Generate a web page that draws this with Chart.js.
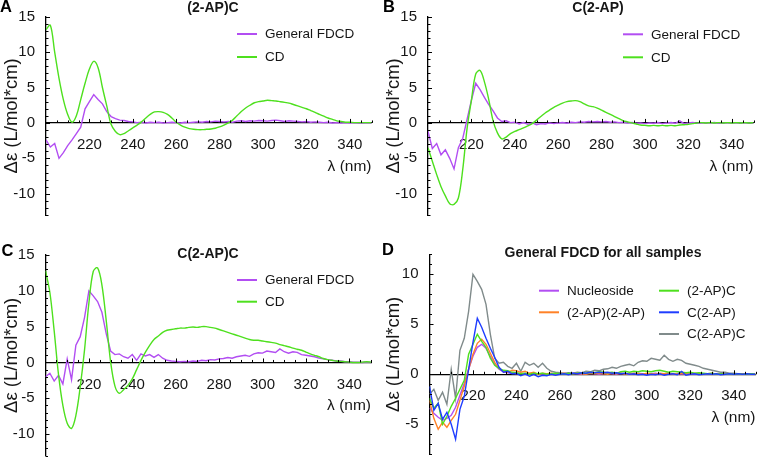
<!DOCTYPE html>
<html><head><meta charset="utf-8">
<script src="https://cdn.jsdelivr.net/npm/chart.js@4.4.1/dist/chart.umd.min.js"></script>
<style>
html,body{margin:0;padding:0;background:#fff;width:758px;height:457px;overflow:hidden;}
.panel{position:absolute;}
canvas{display:block;}
</style></head><body>
<div class="panel" style="left:0;top:0;width:380px;height:220px"><canvas id="cA" width="380" height="220"></canvas></div>
<div class="panel" style="left:382px;top:0;width:376px;height:220px"><canvas id="cB" width="376" height="220"></canvas></div>
<div class="panel" style="left:0;top:220px;width:380px;height:237px"><canvas id="cC" width="380" height="237"></canvas></div>
<div class="panel" style="left:382px;top:220px;width:376px;height:237px"><canvas id="cD" width="376" height="237"></canvas></div>
<script>
// ---- data (wavelength in nm, delta-epsilon in L/mol*cm) ----
const wavelength = [200,202,204,206,208,210,212,214,216,218,
  220,222,224,226,228,230,232,234,236,238,
  240,242,244,246,248,250,252,254,256,258,
  260,262,264,266,268,270,272,274,276,278,
  280,282,284,286,288,290,292,294,296,298,
  300,302,304,306,308,310,312,314,316,318,
  320,322,324,326,328,330,332,334,336,338,
  340,342,344,346,348,350];
const xTickLabels = [220,240,260,280,300,320,340];

// (2-AP)C
const cdAP_C = [13.2,13.8,10.0,6.3,3.3,1.2,0.1,1.0,3.3,5.6,
  7.6,8.7,7.8,5.0,2.4,-0.2,-1.2,-1.65,-1.5,-1.1,
  -0.7,-0.3,0.15,0.7,1.2,1.55,1.6,1.5,1.2,0.7,
  0.1,-0.3,-0.6,-0.8,-0.9,-0.95,-0.95,-0.9,-0.85,-0.75,
  -0.55,-0.3,0.0,0.4,1.0,1.6,2.1,2.5,2.85,3.0,
  3.1,3.2,3.15,3.1,3.0,2.9,2.8,2.6,2.4,2.2,
  2.0,1.75,1.5,1.2,0.95,0.7,0.5,0.3,0.2,0.1,
  0.1,0.05,0.05,0.05,0.05,0.05];
const fdcdAP_C = [-2.4,-3.4,-2.9,-5.0,-4.2,-3.2,-2.4,-1.5,-0.6,2.0,
  3.0,4.0,3.3,2.7,1.6,0.9,0.6,0.4,0.35,0.2,
  0.15,0.05,0.1,0.0,0.1,0.05,0.1,0.0,0.05,0.1,
  0.05,0.0,0.1,0.05,0.1,0.15,0.1,0.2,0.15,0.25,
  0.2,0.15,0.2,0.1,0.25,0.3,0.2,0.3,0.25,0.35,
  0.3,0.25,0.35,0.4,0.3,0.2,0.3,0.25,0.2,0.15,
  0.2,0.1,0.15,0.1,0.05,0.1,0.0,0.05,0.0,0.05,
  0.0,0.05,0.0,0.0,0.05,0.0];

// C(2-AP)
const cdC_AP = [-3.5,-5.4,-7.3,-9.0,-10.3,-11.4,-11.5,-10.6,-6.6,-0.8,
  3.2,6.9,7.4,5.8,3.3,0.3,-1.4,-2.25,-2.0,-1.5,
  -1.2,-0.95,-0.7,-0.4,-0.1,0.4,0.9,1.4,1.8,2.2,
  2.5,2.8,3.0,3.1,3.15,3.0,2.7,2.4,2.3,2.1,
  1.8,1.5,1.2,0.9,0.6,0.3,0.15,0.0,-0.15,-0.3,
  -0.35,-0.4,-0.35,-0.4,-0.35,-0.4,-0.35,-0.4,-0.3,-0.25,
  -0.2,-0.1,0.0,0.05,0.0,0.05,0.0,0.05,0.0,0.05,
  0.0,0.05,0.0,0.05,0.0,0.05];
const fdcdC_AP = [-1.2,-3.6,-2.9,-4.5,-3.8,-5.0,-6.5,-3.5,-2.2,0.5,
  3.2,5.6,4.7,3.6,2.6,1.7,0.7,0.2,0.3,0.05,
  0.1,-0.15,0.05,-0.2,0.0,-0.25,-0.1,-0.15,0.0,-0.1,
  0.0,0.05,-0.05,0.1,0.05,0.15,0.1,0.2,0.15,0.2,
  0.15,0.2,0.1,0.15,0.05,0.1,0.0,0.05,-0.05,0.0,
  -0.1,0.0,-0.05,0.05,-0.1,0.0,0.05,-0.05,0.3,-0.1,
  0.0,0.05,-0.05,0.0,0.05,0.0,0.05,-0.05,0.0,0.05,
  0.0,0.05,0.0,0.05,0.0,0.0];

// C(2-AP)C
const cdC_AP_C = [12.8,9.8,4.4,-1.7,-6.0,-8.5,-9.2,-7.4,-3.4,1.8,
  8.3,12.7,13.2,10.8,5.8,0.1,-3.3,-4.3,-3.8,-3.2,
  -2.3,-1.0,0.3,1.4,2.4,3.2,3.7,4.2,4.5,4.6,
  4.7,4.8,4.8,4.9,4.95,4.9,5.0,5.0,4.9,4.8,
  4.6,4.4,4.2,4.0,3.8,3.6,3.4,3.2,3.1,3.1,
  3.0,2.9,2.8,2.7,2.5,2.35,2.2,2.0,1.85,1.7,
  1.45,1.2,1.0,0.8,0.55,0.4,0.3,0.2,0.15,0.1,
  0.05,0.0,0.0,0.05,0.1,0.05];
const fdcdC_AP_C = [-2.0,-1.5,-2.6,-1.8,-3.0,0.5,-2.4,2.4,3.6,6.3,
  10.0,9.3,8.5,7.0,4.0,1.6,1.1,1.2,0.8,0.6,
  1.1,0.3,1.2,0.9,1.1,0.7,1.1,0.6,0.3,0.2,
  0.15,0.1,0.15,0.1,0.2,0.15,0.3,0.25,0.4,0.35,
  0.5,0.55,0.7,0.6,0.8,0.9,1.0,0.85,1.2,1.35,
  1.3,1.6,1.5,1.4,1.9,1.5,1.3,1.5,1.4,1.1,
  1.0,0.9,0.8,0.6,0.5,0.4,0.3,0.2,0.2,0.1,
  0.1,0.05,0.05,0.0,0.05,0.0];

// other samples (panel D)
const fdcdNucleoside = [-3.4,-3.9,-4.3,-4.6,-4.4,-4.1,-3.3,-2.1,-0.9,0.5,
  1.8,2.7,3.0,2.6,1.8,1.0,0.5,0.25,0.15,0.1,
  0.05,0.1,0.0,0.05,0.1,0.0,0.05,0.0,0.05,0.0,
  0.05,0.0,0.05,0.1,0.05,0.0,0.05,0.1,0.05,0.0,
  0.05,0.1,0.05,0.0,0.1,0.05,0.0,0.05,0.1,0.05,
  0.0,0.05,0.1,0.0,0.05,0.1,0.05,0.0,0.05,0.0,
  0.05,0.0,0.05,0.0,0.05,0.0,0.05,0.0,0.0,0.05,
  0.0,0.0,0.05,0.0,0.0,0.0];
const fdcdAP_AP = [-2.6,-4.4,-5.5,-4.8,-5.3,-4.6,-4.0,-2.6,-1.2,0.5,
  2.0,3.1,3.5,3.0,2.1,1.2,0.6,0.3,0.2,0.4,
  0.35,0.2,0.3,0.1,0.2,0.0,0.1,0.05,0.1,0.0,
  0.05,0.1,0.0,0.05,0.1,0.05,0.0,0.1,0.05,0.1,
  0.05,0.0,0.1,0.05,0.1,0.0,0.05,0.1,0.05,0.0,
  0.1,0.05,0.0,0.1,0.05,0.1,0.0,0.05,0.1,0.05,
  0.0,0.1,0.05,0.0,0.05,0.1,0.0,0.05,0.0,0.05,
  0.0,0.0,0.05,0.0,0.0,0.0];

// ---- styling ----
const FONT = '"Liberation Sans", Arial, Helvetica, sans-serif';
const PURPLE = '#b24ef2', GREEN = '#4ee01e', ORANGE = '#ff8228', BLUE = '#1f3dff', GRAY = '#808b8b';
const TXT = '#161616';
Chart.defaults.font.family = FONT;

const decor = {
  id: 'decor',
  afterDraw(chart, args, o) {
    const ctx = chart.ctx, xs = chart.scales.x, ys = chart.scales.y;
    const y0 = ys.getPixelForValue(0), xl = chart.chartArea.left;
    ctx.save();
    ctx.strokeStyle = '#000'; ctx.lineWidth = 1;
    ctx.beginPath();
    ys.ticks.forEach(t => {
      const p = Math.round(ys.getPixelForValue(t.value)) + 0.5;
      const L = (t.value % 5 === 0) ? 4 : 2.5;
      ctx.moveTo(xl, p); ctx.lineTo(xl + L, p);
    });
    xs.ticks.forEach(t => {
      if (t.value <= xs.min) return;
      const p = Math.round(xs.getPixelForValue(t.value)) + 0.5;
      const L = (t.value % 20 === 0) ? 4 : 2.5;
      ctx.moveTo(p, y0); ctx.lineTo(p, y0 - L);
    });
    ctx.stroke();
    // legend
    ctx.font = '13.5px ' + FONT; ctx.textBaseline = 'middle'; ctx.textAlign = 'left';
    (o.legend || []).forEach(it => {
      const ds = chart.data.datasets[it.ds];
      ctx.strokeStyle = ds.borderColor; ctx.lineWidth = 2;
      ctx.beginPath(); ctx.moveTo(it.x1, it.y); ctx.lineTo(it.x1 + 20, it.y); ctx.stroke();
      ctx.fillStyle = TXT; ctx.fillText(ds.label, it.x1 + 28, it.y + 0.5);
    });
    // title and panel letter
    ctx.fillStyle = TXT;
    ctx.font = 'bold 14px ' + FONT; ctx.textAlign = 'center';
    ctx.fillText(o.title.text, o.title.x, o.title.y);
    ctx.font = 'bold 16.5px ' + FONT; ctx.textAlign = 'left'; ctx.fillStyle = '#000';
    ctx.fillText(o.letter.text, o.letter.x, o.letter.y);
    ctx.restore();
  }
};

function makeChart(id, c) {
  return new Chart(document.getElementById(id), {
    type: 'line',
    data: { labels: wavelength, datasets: c.datasets.map(d => Object.assign({
      pointRadius: 0, borderWidth: 1.4, fill: false, tension: 0
    }, d)) },
    plugins: [decor],
    options: {
      responsive: false, animation: false, devicePixelRatio: 1,
      layout: { padding: { top: c.pad.top, bottom: c.pad.bottom, left: 0, right: c.pad.right } },
      plugins: {
        legend: { display: false }, tooltip: { enabled: false }, title: { display: false },
        decor: { legend: c.legend, title: c.title, letter: c.letter }
      },
      scales: {
        x: {
          type: 'linear', min: 200, max: 350, position: { y: 0 },
          afterFit: s => { s.paddingLeft = 0; s.paddingRight = 0; },
          ticks: { stepSize: 5, autoSkip: false, maxRotation: 0, minRotation: 0, padding: 5, color: TXT,
            font: { size: 15, family: FONT },
            callback: v => xTickLabels.includes(v) ? String(v) : '' },
          grid: { display: false },
          border: { display: true, color: '#000', width: 1.3 },
          title: { display: true, text: 'λ (nm)', align: 'end', color: TXT,
            font: { size: 15.5, family: FONT }, padding: { top: -2, bottom: 0 } }
        },
        y: {
          type: 'linear', min: c.ymin, max: c.ymax, position: 'left',
          afterFit: s => { s.width = c.axisW; s.paddingTop = 0; s.paddingBottom = 0; },
          ticks: { stepSize: 1, autoSkip: false, maxTicksLimit: 100, padding: 3, color: TXT,
            font: { size: 15, family: FONT },
            callback: v => (v % 5 === 0) ? String(v) : '' },
          grid: { display: false },
          border: { display: true, color: '#000', width: 1.3 },
          title: { display: true, text: 'Δε (L/mol*cm)', color: TXT,
            font: { size: 18.5, family: FONT }, padding: { top: 1, bottom: 0 } }
        }
      }
    }
  });
}

makeChart('cA', {
  ymin: -13, ymax: 15, axisW: 46, pad: { top: 16.7, bottom: 5, right: 8.5 },
  datasets: [
    { label: 'General FDCD', data: fdcdAP_C, borderColor: PURPLE, order: 1 },
    { label: 'CD', data: cdAP_C, borderColor: GREEN, tension: 0.35, order: 0 }
  ],
  legend: [{ ds: 0, x1: 237, y: 34 }, { ds: 1, x1: 237, y: 57 }],
  title: { text: '(2-AP)C', x: 213, y: 8 },
  letter: { text: 'A', x: 0, y: 7 }
});
makeChart('cB', {
  ymin: -13, ymax: 15, axisW: 46, pad: { top: 16.7, bottom: 5, right: 4.5 },
  datasets: [
    { label: 'General FDCD', data: fdcdC_AP, borderColor: PURPLE, order: 1 },
    { label: 'CD', data: cdC_AP, borderColor: GREEN, tension: 0.35, order: 0 }
  ],
  legend: [{ ds: 0, x1: 241, y: 34.3 }, { ds: 1, x1: 241, y: 57.3 }],
  title: { text: 'C(2-AP)', x: 216, y: 8.3 },
  letter: { text: 'B', x: 1, y: 7 }
});
makeChart('cC', {
  ymin: -13, ymax: 15, axisW: 45.5, pad: { top: 35, bottom: 1.4, right: 9 },
  datasets: [
    { label: 'General FDCD', data: fdcdC_AP_C, borderColor: PURPLE, order: 1 },
    { label: 'CD', data: cdC_AP_C, borderColor: GREEN, tension: 0.35, order: 0 }
  ],
  legend: [{ ds: 0, x1: 237, y: 60 }, { ds: 1, x1: 237, y: 81.7 }],
  title: { text: 'C(2-AP)C', x: 208, y: 34.6 },
  letter: { text: 'C', x: 1.5, y: 31 }
});
makeChart('cD', {
  ymin: -8, ymax: 12, axisW: 47.5, pad: { top: 34.3, bottom: 2.7, right: 2.5 },
  datasets: [
    { label: 'Nucleoside', data: fdcdNucleoside, borderColor: PURPLE, order: 3 },
    { label: '(2-AP)(2-AP)', data: fdcdAP_AP, borderColor: ORANGE, order: 2 },
    { label: '(2-AP)C', data: fdcdAP_C, borderColor: GREEN, order: 1 },
    { label: 'C(2-AP)', data: fdcdC_AP, borderColor: BLUE, order: 0 },
    { label: 'C(2-AP)C', data: fdcdC_AP_C, borderColor: GRAY, order: 4 }
  ],
  legend: [
    { ds: 0, x1: 157, y: 70.7 }, { ds: 2, x1: 277, y: 70.7 },
    { ds: 1, x1: 157, y: 92.3 }, { ds: 3, x1: 277, y: 92.3 },
    { ds: 4, x1: 277, y: 114 }
  ],
  title: { text: 'General FDCD for all samples', x: 221, y: 32.7 },
  letter: { text: 'D', x: 0, y: 30 }
});
</script>
</body></html>
